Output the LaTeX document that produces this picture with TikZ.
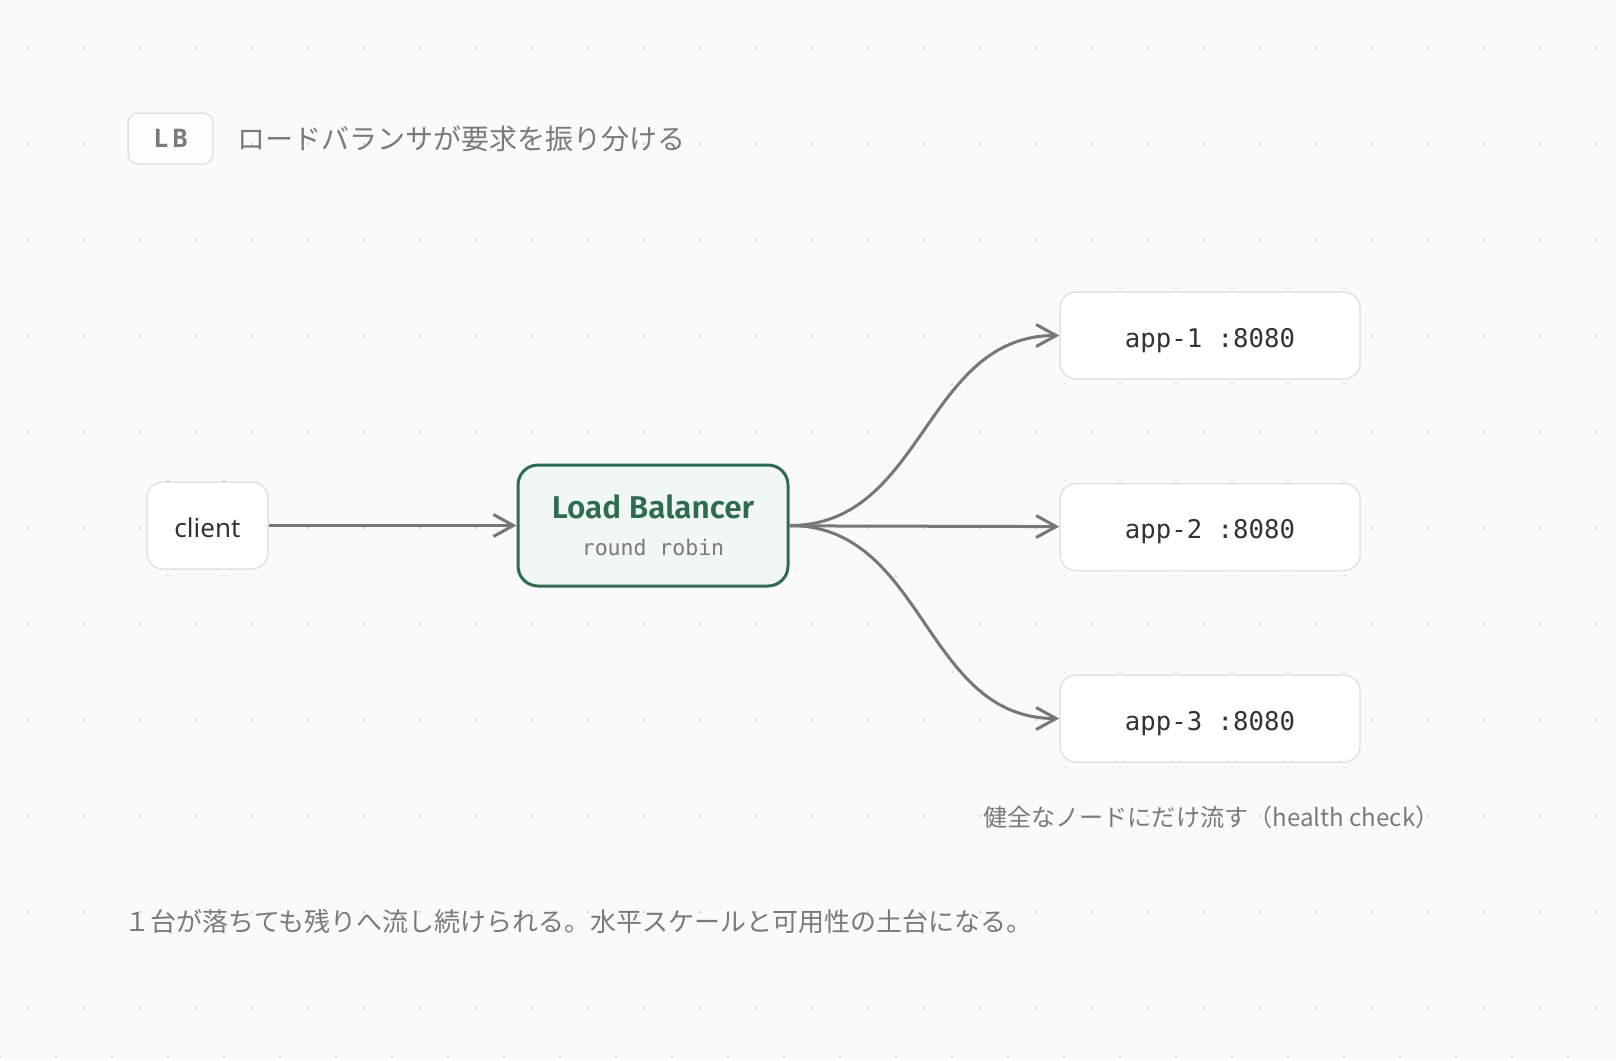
\documentclass[tikz,border=0pt]{standalone}
\usepackage{fontspec}
\setmainfont{Noto Sans}
\setmonofont{DejaVu Sans Mono}
\newfontfamily\jpfont{Noto Sans CJK JP}
\newfontfamily\headfont{Fira Sans}[UprightFont=* SemiBold]
\usetikzlibrary{arrows.meta,positioning}
\definecolor{paper}{HTML}{FAFAF9}
\definecolor{griddot}{HTML}{D2D2D0}
\definecolor{edgegray}{HTML}{777777}
\definecolor{lbgreen}{HTML}{2E6B4F}
\definecolor{lbfill}{HTML}{F1F7F3}
\definecolor{boxline}{HTML}{E2E2E0}
\definecolor{inkdark}{HTML}{333333}
\definecolor{inkgray}{HTML}{7A7A7A}
\newcommand{\px}[1]{\fontsize{#1}{#1}\selectfont}

\begin{document}
\begin{tikzpicture}[x=1pt,y=-1pt,
  plain/.style={draw=boxline,line width=1.5pt,fill=white,rounded corners=16pt,
    minimum height=87pt,inner sep=0pt,text=inkdark,text height=24pt,text depth=0.8pt},
  appbox/.style={plain,minimum width=300pt,font=\ttfamily\px{25.7}},
  lbbox/.style={draw=lbgreen,line width=3pt,fill=lbfill,rounded corners=20pt,
    minimum width=270pt,minimum height=121pt,inner sep=0pt,align=center,
    text=lbgreen,font=\headfont\px{31.5}},
  tagbox/.style={draw=boxline,line width=1.5pt,fill=white!60!paper,rounded corners=10pt,
    minimum width=85pt,minimum height=51pt,inner sep=0pt,text=black!52,font=\ttfamily\bfseries\px{25}},
  note/.style={inner sep=0pt,text=inkgray},
  flow/.style={edgegray,line width=3pt,-{Straight Barb[length=20pt,width=22pt]}}]
\fill[paper] (0,0) rectangle (1616,1060);
\useasboundingbox (0,0) rectangle (1616,1060);
\foreach \r in {0,...,22}{
  \pgfmathsetmacro\off{mod(\r,2)*28}
  \foreach \c in {0,...,28}
    \fill[griddot] (\c*56+\off,\r*48) circle[radius=1.4pt];
}

\node[tagbox] (tag) at (170.5,138.5) {L\hspace{4pt}B};
\node[note,font=\jpfont\px{28},right=24pt of tag] (title) {ロードバランサが要求を振り分ける};

\node[plain,minimum width=121pt,font=\px{26},text height=23pt,text depth=0pt] (client) at (207.5,525.5) {client};
\node[lbbox] (lb) at (653,525.5)
  {Load Balancer\\[5.5pt]{\ttfamily\px{21.5}\color{inkgray}round robin}};
\node[appbox] (app1) at (1210,335.5) {app-1 :8080};
\node[appbox,below=103pt of app1] (app2) {app-2 :8080};
\node[appbox,below=103pt of app2] (app3) {app-3 :8080};

\node[note,font=\jpfont\px{24.1},anchor=west] (hc) at (983,817) {健全なノードにだけ流す（health check）};
\node[note,font=\jpfont\px{26},anchor=west] (sum) at (124,922)
  {１台が落ちても残りへ流し続けられる。水平スケールと可用性の土台になる。};

\path[flow]
(client) edge (lb)
(lb) edge (app2)
(lb.east) edge[out=0,in=180,looseness=1.05] (app1.west)
(lb.east) edge[out=0,in=180,looseness=1.05] (app3.west)
;
\end{tikzpicture}
\end{document}
